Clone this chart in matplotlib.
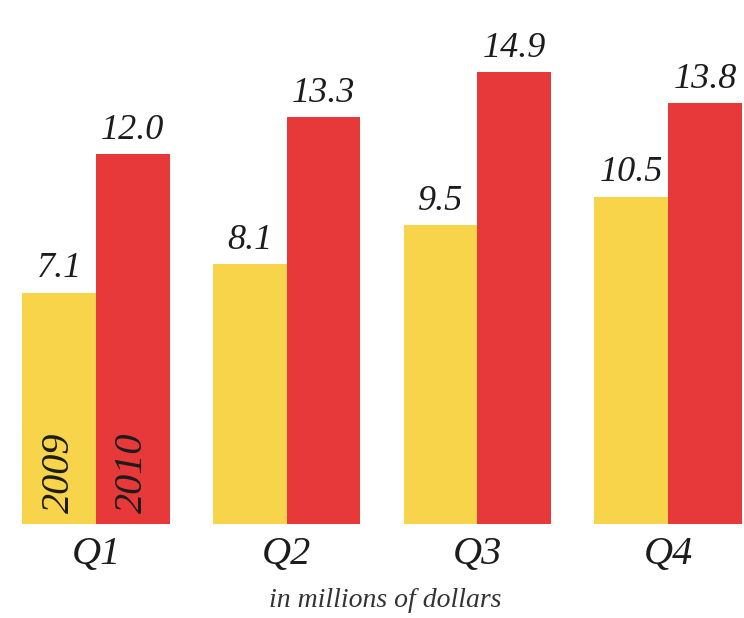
import matplotlib.pyplot as plt
import numpy as np

# Quarterly revenue, in millions of dollars
quarters = ['Q1', 'Q2', 'Q3', 'Q4']
years = ['2009', '2010']
values_2009 = [7.1, 8.1, 9.5, 10.5]
values_2010 = [12.0, 13.3, 14.9, 13.8]

yellow = '#F7D44A'
red = '#E8393A'
ink = '#1c1c1c'
serif = ['Liberation Serif', 'DejaVu Serif']

# bars rise from a floor a little below zero
floor = -1.1

fig = plt.figure(figsize=(7.44, 6.18), dpi=100)
ax = fig.add_axes([0, 0.152, 1, 0.848])

x = np.arange(len(quarters))
w = 0.387
bars_a = ax.bar(x - w / 2, np.array(values_2009) - floor, bottom=floor,
                width=w, color=yellow, linewidth=0)
bars_b = ax.bar(x + w / 2, np.array(values_2010) - floor, bottom=floor,
                width=w, color=red, linewidth=0)

# value labels above each bar
for bars, vals in ((bars_a, values_2009), (bars_b, values_2010)):
    for b, v in zip(bars, vals):
        ax.text(b.get_x() + b.get_width() / 2, v + 0.25, '{:.1f}'.format(v),
                ha='center', va='bottom', fontsize=26, style='italic',
                family=serif, color=ink)

# year names written up the first pair of bars
for off, yr in ((-w / 2, years[0]), (w / 2, years[1])):
    ax.text(x[0] + off, floor + 0.4, yr, rotation=90, ha='center',
            va='bottom', fontsize=29, style='italic', family=serif, color=ink)

ax.set_xlim(-0.503, 3.398)
ax.set_ylim(floor, 17.46)
ax.axis('off')

for xi, q in zip(x, quarters):
    fig.text((xi + 0.503) / 3.901, 0.103, q, ha='center', va='center',
             fontsize=29, style='italic', family=serif, color=ink)

fig.text(0.518, 0.028, 'in millions of dollars', ha='center', va='center',
         fontsize=20, style='italic', family=serif, color='#333333')

fig.savefig('out.png', dpi=100, facecolor='white')
